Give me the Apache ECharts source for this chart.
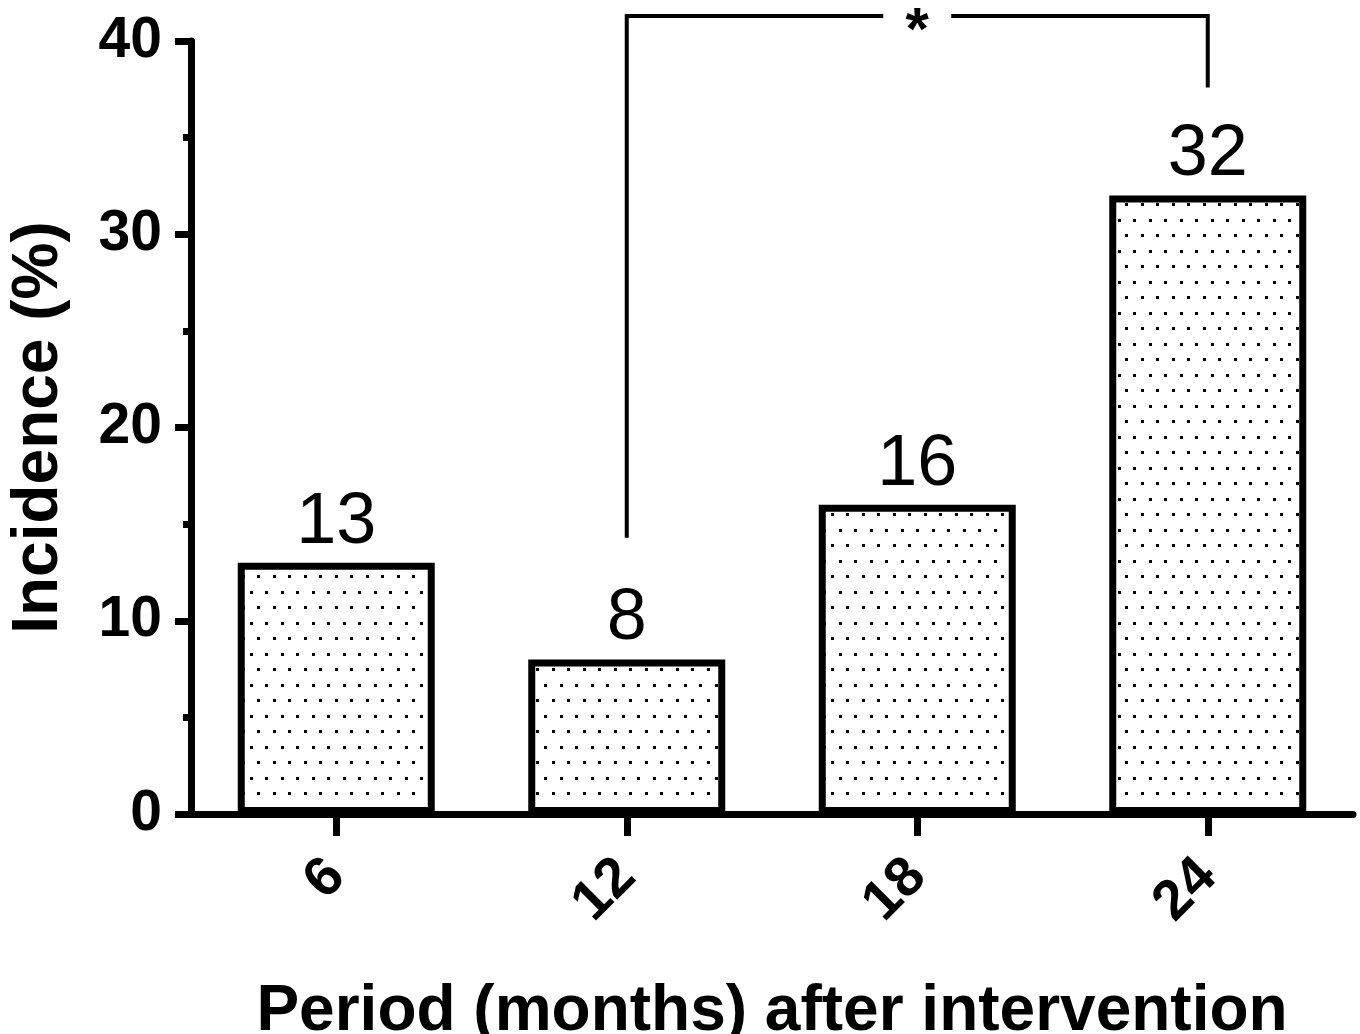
<!DOCTYPE html>
<html>
<head>
<meta charset="utf-8">
<script src="https://cdn.jsdelivr.net/npm/echarts@6/dist/echarts.min.js"></script>
<style>
html,body{margin:0;padding:0;background:#fff;}
#chart{width:1360px;height:1034px;}
</style>
</head>
<body>
<div id="chart"></div>
<script>
// ---- data ----
const categories = ['6', '12', '18', '24'];
const incidence = [13, 8, 16, 32];
const yTicks = { min: 0, max: 40, interval: 10 };
const xTitle = 'Period (months) after intervention';
const yTitle = 'Incidence (%)';
// significance bracket: from category, to category, leg bottoms, top level, label
const bracketFrom = [1];          // index of '12'
const bracketTo = [3];            // index of '24'
const bracketLeftBase = [14.3];
const bracketRightBase = [37.6];
const bracketTop = [41.3];
const bracketLabel = ['*'];

const FONT = '"Liberation Sans", Arial, Helvetica, sans-serif';

// dotted fill pattern
function makeDots() {
  const c = document.createElement('canvas');
  c.width = 31; c.height = 31;
  const g = c.getContext('2d');
  g.fillStyle = '#ffffff';
  g.fillRect(0, 0, 31, 31);
  g.fillStyle = '#000000';
  const s = 3;
  [[2, 2], [17, 2], [9, 17], [25, 17]].forEach(p => g.fillRect(p[0], p[1], s, s));
  return c;
}

const chart = echarts.init(document.getElementById('chart'), null, { renderer: 'canvas' });

const bracketData = bracketFrom.map((f, i) => [f, bracketTo[i], bracketLeftBase[i], bracketRightBase[i], bracketTop[i]]);

chart.setOption({
  backgroundColor: '#ffffff',
  animation: false,
  grid: { left: 191, right: 7, top: 41, bottom: 220, containLabel: false, outerBoundsMode: 'none' },
  xAxis: {
    type: 'category',
    data: categories,
    boundaryGap: true,
    name: xTitle,
    nameLocation: 'middle',
    nameGap: 166,
    nameTextStyle: { fontFamily: FONT, fontSize: 64, fontWeight: 'bold', color: '#000' },
    axisLine: { show: true, lineStyle: { color: '#000', width: 7 } },
    axisTick: { show: true, alignWithLabel: true, length: 22, lineStyle: { color: '#000', width: 7 } },
    axisLabel: { rotate: 45, margin: 54, fontFamily: FONT, fontSize: 56, fontWeight: 'bold', color: '#000' },
    splitLine: { show: false }
  },
  yAxis: {
    type: 'value',
    min: yTicks.min,
    max: yTicks.max,
    interval: yTicks.interval,
    name: yTitle,
    nameLocation: 'middle',
    nameGap: 120,
    nameRotate: 90,
    nameTextStyle: { fontFamily: FONT, fontSize: 64, fontWeight: 'bold', color: '#000' },
    axisLine: { show: true, lineStyle: { color: '#000', width: 7 } },
    axisTick: { show: true, length: 16, lineStyle: { color: '#000', width: 7 } },
    minorTick: { show: true, splitNumber: 2, length: 8, lineStyle: { color: '#000', width: 7 } },
    axisLabel: { margin: 29, fontFamily: FONT, fontSize: 57, fontWeight: 'bold', color: '#000' },
    splitLine: { show: false },
    minorSplitLine: { show: false }
  },
  series: [
    {
      type: 'bar',
      data: incidence,
      barWidth: 197,
      itemStyle: {
        color: { image: makeDots(), repeat: 'repeat' },
        borderColor: '#000',
        borderWidth: 7
      },
      label: {
        show: true,
        position: 'top',
        distance: 4,
        fontFamily: FONT,
        fontSize: 72,
        fontWeight: 'normal',
        color: '#000'
      }
    },
    {
      type: 'custom',
      coordinateSystem: 'cartesian2d',
      clip: false,
      silent: true,
      data: bracketData,
      encode: { x: [0, 1], y: [2, 3, 4] },
      renderItem: function (params, api) {
        const a = api.coord([api.value(0), api.value(2)]);
        const b = api.coord([api.value(1), api.value(3)]);
        const t = api.coord([api.value(0), api.value(4)]);
        const top = t[1];
        const mid = (a[0] + b[0]) / 2;
        const gap = 34;
        const style = { stroke: '#000', lineWidth: 4, fill: null };
        return {
          type: 'group',
          children: [
            { type: 'polyline', shape: { points: [[a[0], a[1]], [a[0], top], [mid - gap, top]] }, style: style },
            { type: 'polyline', shape: { points: [[mid + gap, top], [b[0], top], [b[0], b[1]]] }, style: style },
            {
              type: 'text',
              style: {
                text: bracketLabel[params.dataIndex],
                x: mid, y: top + 17,
                align: 'center', verticalAlign: 'middle',
                fontFamily: FONT, fontSize: 60, fontWeight: 'bold', fill: '#000'
              }
            }
          ]
        };
      }
    }
  ]
});
</script>
</body>
</html>
